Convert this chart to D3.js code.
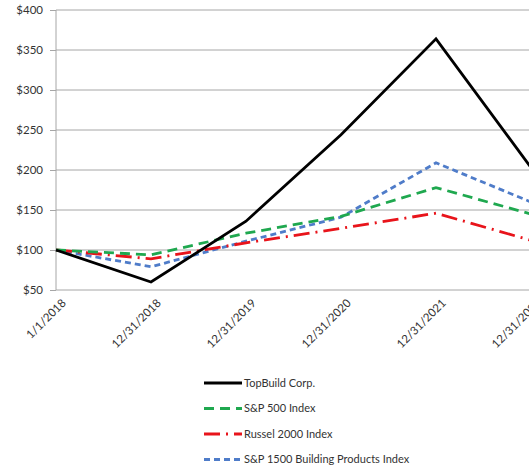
<!DOCTYPE html>
<html lang="en">
<head>
<meta charset="utf-8">
<title>Cumulative total return</title>
<script src="https://cdn.jsdelivr.net/npm/d3@7"></script>
<style>
  body { margin: 0; background: #fff; }
  svg text { font-family: Lato, "Open Sans", sans-serif; fill: #333; }
</style>
</head>
<body>
<div id="chart"></div>
<script>
var dates = ["1/1/2018", "12/31/2018", "12/31/2019", "12/31/2020", "12/31/2021", "12/31/2022"];
var topBuild = [100, 60, 136, 244, 364, 203];
var sp500 = [100, 94, 121, 142, 178, 145];
var russell = [100, 89, 109, 127, 146, 112];
var sp1500 = [100, 79, 111, 141, 209, 160];
var yTicks = [50, 100, 150, 200, 250, 300, 350, 400];

var series = [
  {name: "TopBuild Corp.", values: topBuild, color: "#000000", dash: null},
  {name: "S&P 500 Index", values: sp500, color: "#1fa84f", dash: "10,6"},
  {name: "Russel 2000 Index", values: russell, color: "#e8141b", dash: "16,6,2,6"},
  {name: "S&P 1500 Building Products Index", values: sp1500, color: "#4f7cc9", dash: "6,4"}
];

var width = 529, height = 469;
var svg = d3.select("#chart").append("svg")
    .attr("width", width)
    .attr("height", height);

var x = d3.scalePoint().domain(dates).range([56, 531]);
var y = d3.scaleLinear().domain([50, 400]).range([290, 10]);

// gridlines
svg.append("g").selectAll("line")
  .data(yTicks)
  .enter().append("line")
    .attr("x1", 56).attr("x2", width)
    .attr("y1", function(d) { return y(d); })
    .attr("y2", function(d) { return y(d); })
    .style("stroke", "#a6a6a6")
    .style("stroke-width", 1);

// y axis
var yAxis = svg.append("g")
    .attr("transform", "translate(56,0)")
    .call(d3.axisLeft(y).tickValues(yTicks).tickSize(6).tickPadding(7)
      .tickFormat(function(d) { return "$" + d; }));
yAxis.selectAll("text").style("font-size", "11.5px");
yAxis.selectAll("line, path").style("stroke", "#a6a6a6");
yAxis.select(".domain").attr("d", "M0,10V290");

// x labels
svg.append("g").selectAll("text")
  .data(dates)
  .enter().append("text")
    .attr("transform", function(d) { return "translate(" + (x(d) + 5) + ",298) rotate(-45)"; })
    .attr("text-anchor", "end")
    .attr("dy", "0.7em")
    .style("font-size", "11.5px")
    .text(function(d) { return d; });

var line = d3.line()
    .x(function(d, i) { return x(dates[i]); })
    .y(function(d) { return y(d); });

svg.append("g").selectAll("path")
  .data(series.slice().reverse())
  .enter().append("path")
    .attr("d", function(s) { return line(s.values); })
    .style("fill", "none")
    .style("stroke", function(s) { return s.color; })
    .style("stroke-width", 2.8)
    .style("stroke-dasharray", function(s) { return s.dash; });

// legend
var legend = svg.append("g").selectAll("g")
  .data(series)
  .enter().append("g")
    .attr("transform", function(d, i) { return "translate(204," + (383 + i * 25.5) + ")"; });

legend.append("line")
    .attr("x1", 0).attr("x2", 38)
    .style("stroke", function(s) { return s.color; })
    .style("stroke-width", 2.8)
    .style("stroke-dasharray", function(s) { return s.dash; });

legend.append("text")
    .attr("x", 40)
    .attr("dy", "0.35em")
    .style("font-size", "11px")
    .text(function(s) { return s.name; });
</script>
</body>
</html>
